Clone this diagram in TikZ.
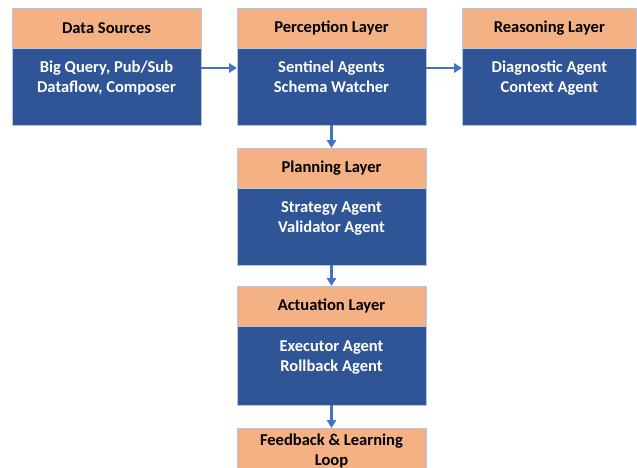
\documentclass[tikz,border=0pt]{standalone}
\usepackage{fontspec}
\setmainfont{Carlito}
\usetikzlibrary{positioning,arrows.meta}

\definecolor{headorange}{HTML}{F4B183}
\definecolor{bodyblue}{HTML}{2F5597}
\definecolor{flowblue}{HTML}{4472C4}
\definecolor{edgeblue}{HTML}{B4C7E7}

\begin{document}
\begin{tikzpicture}[x=0.75pt,y=-0.75pt]
\tikzstyle{layer}=[rectangle,outer sep=0pt,inner sep=2pt,draw=edgeblue,line width=0.6pt,
  align=center,font=\bfseries\fontsize{12.4}{15}\selectfont,minimum width=141.75pt]
\tikzstyle{head}=[layer,fill=headorange,text=black,minimum height=30pt,anchor=north west]
\tikzstyle{body}=[layer,fill=bodyblue,text=white,minimum height=58pt,anchor=north]
\tikzstyle{flow}=[flowblue,line width=2pt,-{Triangle[length=6pt,width=7pt]}]
\useasboundingbox (0,0) rectangle (637,468);
\clip (0,0) rectangle (637,468);
% ========= top row
\node (dsH) at (12,8) [head] {Data Sources};
\node (dsB) [body, below=0pt of dsH] {Big Query, Pub/Sub\\Dataflow, Composer\\~};

\node (perH) at (237,8) [head] {Perception Layer};
\node (perB) [body, below=0pt of perH] {Sentinel Agents\\Schema Watcher\\~};

\node (reaH) at (462,8) [head, minimum width=131pt] {Reasoning Layer};
\node (reaB) [body, minimum width=131pt, below=0pt of reaH] {Diagnostic Agent\\Context Agent\\~};
% ========= column below perception
\node (plaH) at (237,148) [head] {Planning Layer};
\node (plaB) [body, below=0pt of plaH] {Strategy Agent\\Validator Agent\\~};

\node (actH) at (237,286) [head] {Actuation Layer};
\node (actB) [body, minimum height=59.5pt, below=0pt of actH] {Executor Agent\\Rollback Agent\\~};

\node (fbk) at (237,428) [head, minimum height=34pt] {Feedback \& Learning\\Loop};
% ====== connections
\draw [flow] ([yshift=-15pt]dsB.north east) -- ([yshift=-15pt]perB.north west);
\draw [flow] ([yshift=-15pt]perB.north east) -- ([yshift=-15pt]reaB.north west);
\draw [flow] (perB.south) -- (plaH.north);
\draw [flow] (plaB.south) -- (actH.north);
\draw [flow] (actB.south) -- (fbk.north);
\end{tikzpicture}
\end{document}
